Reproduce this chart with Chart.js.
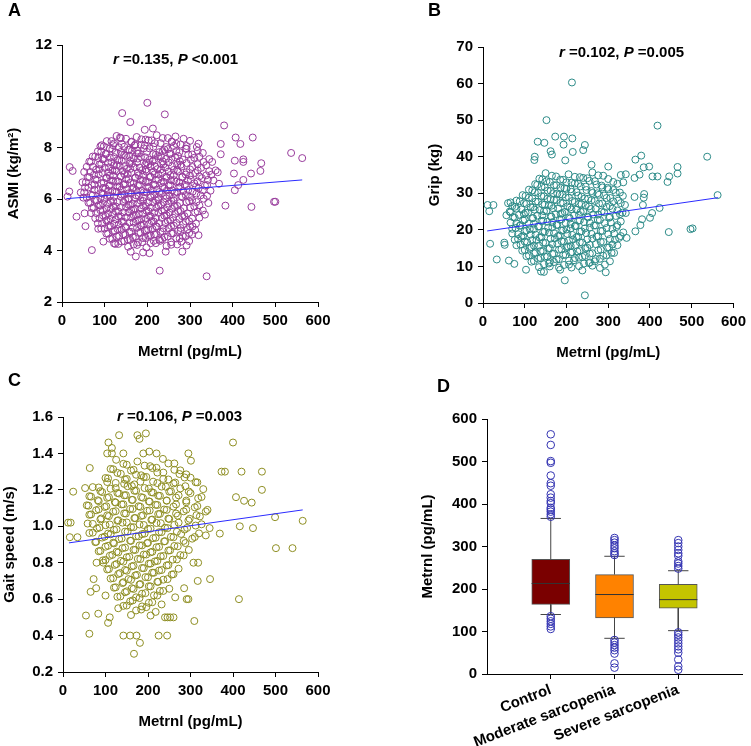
<!DOCTYPE html>
<html>
<head>
<meta charset="utf-8">
<script src="https://cdn.jsdelivr.net/npm/chart.js@4.4.1/dist/chart.umd.min.js"></script>
<style>
  body { margin: 0; background: #fff; }
  #wrap { position: relative; width: 751px; height: 746px; font-family: "Liberation Sans", Arial, sans-serif; }
  .panel { position: absolute; }
  .tag { position: absolute; font: bold 18px "Liberation Sans", Arial, sans-serif; color: #000; }
</style>
</head>
<body>
<div id="wrap">
  <div class="panel" style="left:0;top:0;width:375px;height:370px"><canvas id="cA" width="375" height="370"></canvas></div>
  <div class="panel" style="left:375px;top:0;width:376px;height:370px"><canvas id="cB" width="376" height="370"></canvas></div>
  <div class="panel" style="left:0;top:370px;width:375px;height:376px"><canvas id="cC" width="375" height="376"></canvas></div>
  <div class="panel" style="left:375px;top:370px;width:376px;height:376px"><canvas id="cD" width="376" height="376"></canvas></div>
  <div class="tag" style="left:8px;top:0px">A</div>
  <div class="tag" style="left:428px;top:0px">B</div>
  <div class="tag" style="left:8px;top:370px">C</div>
  <div class="tag" style="left:437px;top:376px">D</div>
</div>
<script>
"use strict";

// ---- datos: ASMI vs Metrnl (panel A)
const asmiPoints = [
  [200,9.75],[141,9.35],[241,9.3],[160,9.0],[380,8.87],[213,8.75],[194,8.7],[407,8.4],[418,8.15],[447,8.4],
  [537,7.8],[563,7.6],[372,8.15],[372,7.75],[405,7.5],[425,7.55],[425,7.45],[467,7.4],[465,7.1],[443,7.0],
  [425,6.75],[403,7.0],[413,6.55],[405,6.35],[497,5.9],[500,5.9],[444,5.7],[383,5.75],[229,3.22],[339,3.0],
  [70,4.02],[173,3.77],[18,7.25],[25,7.1],[13,6.1],[17,6.3],[34,5.32],[55,4.95],[53,5.45],[85,4.85],
  [97,4.35],[122,4.28],[161,3.96],[190,3.93],[205,3.9],[243,3.96],[282,3.96],[292,4.2],[320,4.6],[312,4.8],
  [335,5.4],[343,5.85],[93,8.1],[85,7.6],[120,8.1],[136,8.4],
  [128,8.46],[150,8.35],[175,8.42],[196,8.32],[222,8.49],[248,8.38],[266,8.44],
  [105,8.26],[140,8.15],[162,8.22],[185,8.12],[203,8.29],[231,8.18],[257,8.24],[278,8.13],[300,8.27],
  [90,8.06],[118,7.95],[133,8.02],[155,7.92],[170,8.09],[192,7.98],[214,8.04],[240,7.93],[262,8.07],[290,7.97],[316,8.03],
  [84,7.86],[102,7.75],[126,7.82],[146,7.72],[164,7.89],[180,7.78],[199,7.84],[220,7.73],[236,7.87],[255,7.77],[275,7.83],[305,7.74],[330,7.8],
  [72,7.66],[95,7.55],[112,7.62],[130,7.52],[150,7.69],[168,7.58],[185,7.64],[205,7.53],[225,7.67],[244,7.57],[265,7.63],[283,7.54],[310,7.61],[345,7.56],
  [64,7.46],[88,7.35],[108,7.42],[122,7.32],[140,7.49],[158,7.38],[176,7.44],[195,7.33],[212,7.47],[232,7.37],[250,7.43],[270,7.34],[292,7.41],[318,7.36],[352,7.45],
  [58,7.26],[80,7.15],[100,7.22],[118,7.12],[135,7.29],[152,7.18],[170,7.24],[188,7.13],[207,7.27],[224,7.17],[242,7.23],[262,7.14],[280,7.27],[300,7.16],[326,7.22],[360,7.12],
  [52,7.06],[75,6.95],[95,7.02],[112,6.92],[128,7.09],[146,6.98],[163,7.04],[180,6.93],[198,7.07],[217,6.97],[235,7.03],[254,6.94],[272,7.08],[290,6.96],[312,7.02],[338,6.93],[365,7.05],
  [60,6.86],[82,6.75],[104,6.82],[120,6.72],[138,6.89],[156,6.78],[172,6.84],[190,6.73],[208,6.87],[226,6.77],[245,6.83],[263,6.74],[282,6.88],[302,6.76],[328,6.82],[355,6.73],
  [48,6.66],[70,6.55],[92,6.62],[110,6.52],[126,6.69],[144,6.58],[160,6.64],[178,6.53],[196,6.67],[214,6.57],[232,6.63],[250,6.54],[268,6.68],[288,6.56],[310,6.62],[335,6.53],[368,6.6],
  [62,6.46],[85,6.35],[102,6.42],[118,6.32],[135,6.49],[152,6.38],[168,6.44],[186,6.33],[204,6.47],[222,6.37],[240,6.43],[258,6.34],[277,6.48],[296,6.36],[320,6.42],[348,6.33],
  [44,6.26],[72,6.15],[95,6.22],[112,6.12],[128,6.29],[146,6.18],[162,6.24],[180,6.13],[198,6.27],[216,6.17],[234,6.23],[252,6.14],[270,6.28],[290,6.16],[315,6.22],[340,6.13],
  [58,6.06],[82,5.95],[100,6.02],[120,5.92],[138,6.09],[155,5.98],[172,6.04],[190,5.93],[208,6.07],[226,5.97],[244,6.03],[262,5.94],[282,6.08],[305,5.96],[332,6.02],
  [66,5.86],[90,5.75],[108,5.82],[126,5.72],[144,5.89],[160,5.78],[178,5.84],[196,5.73],[214,5.87],[232,5.77],[250,5.83],[270,5.74],[292,5.88],[322,5.76],
  [74,5.66],[96,5.55],[115,5.62],[132,5.52],[150,5.69],[167,5.58],[185,5.64],[203,5.53],[221,5.67],[240,5.57],[258,5.63],[278,5.54],[300,5.68],[330,5.56],
  [80,5.46],[102,5.35],[120,5.42],[138,5.32],[156,5.49],[173,5.38],[190,5.44],[208,5.33],[226,5.47],[245,5.37],[265,5.43],[287,5.34],[312,5.48],
  [88,5.26],[108,5.15],[126,5.22],[144,5.12],[162,5.29],[180,5.18],[197,5.24],[215,5.13],[234,5.27],[254,5.17],[275,5.23],[298,5.14],[322,5.28],
  [94,5.06],[114,4.95],[133,5.02],[150,4.92],[168,5.09],[186,4.98],[204,5.04],[222,4.93],[242,5.07],[262,4.97],[284,5.03],[306,4.94],
  [100,4.86],[120,4.75],[140,4.82],[158,4.72],[176,4.89],[194,4.78],[212,4.84],[231,4.73],[250,4.87],[272,4.77],[295,4.83],
  [108,4.66],[128,4.55],[148,4.62],[166,4.52],[184,4.69],[202,4.58],[220,4.64],[240,4.53],[260,4.67],[283,4.57],[305,4.63],
  [118,4.46],[140,4.35],[160,4.42],[178,4.32],[196,4.49],[215,4.38],[235,4.44],[256,4.33],[276,4.47],[298,4.37],
  [132,4.26],[155,4.15],[176,4.22],[198,4.12],[220,4.29],[245,4.18],[270,4.24],
  [116,8.26],[138,8.37],[163,8.24],[186,8.33],[210,8.29],[236,8.38],[258,8.23],[285,8.35],
  [98,8.06],[122,8.17],[146,8.04],[172,8.13],[194,8.09],[218,8.18],[244,8.03],[268,8.15],[292,8.07],[320,8.16],
  [92,7.86],[112,7.97],[138,7.84],[158,7.93],[176,7.89],[205,7.98],[228,7.83],[248,7.95],[268,7.87],[292,7.96],[318,7.88],
  [78,7.66],[104,7.77],[122,7.64],[140,7.73],[158,7.69],[176,7.78],[195,7.63],[214,7.75],[232,7.67],[252,7.76],[272,7.68],[296,7.74],[322,7.65],
  [68,7.46],[98,7.57],[116,7.44],[134,7.53],[160,7.49],[178,7.58],[198,7.43],[216,7.55],[236,7.47],[256,7.56],[276,7.48],[302,7.54],[332,7.45],
  [72,7.26],[92,7.37],[110,7.24],[128,7.33],[146,7.29],[164,7.38],[182,7.23],[202,7.35],[218,7.27],[238,7.36],[258,7.28],[278,7.34],[306,7.25],[338,7.32],
  [66,7.06],[88,7.17],[108,7.04],[124,7.13],[142,7.09],[160,7.18],[178,7.03],[196,7.15],[214,7.07],[232,7.16],[250,7.08],[270,7.14],[292,7.05],[318,7.12],[345,7.09],
  [64,6.86],[86,6.97],[104,6.84],[120,6.93],[138,6.89],[154,6.98],[172,6.83],[190,6.95],[206,6.87],[226,6.96],[244,6.88],[262,6.94],[282,6.85],[300,6.92],[322,6.89],[350,6.95],
  [56,6.66],[78,6.77],[98,6.64],[115,6.73],[132,6.69],[150,6.78],[168,6.63],[184,6.75],[202,6.67],[220,6.76],[238,6.68],[256,6.74],[275,6.65],[295,6.72],[318,6.69],[342,6.75],
  [54,6.46],[76,6.57],[96,6.44],[112,6.53],[130,6.49],[148,6.58],[165,6.43],[182,6.55],[200,6.47],[218,6.56],[236,6.48],[254,6.54],[273,6.45],[292,6.52],[314,6.49],[340,6.55],
  [52,6.26],[76,6.37],[92,6.24],[108,6.33],[124,6.29],[140,6.38],[156,6.23],[174,6.35],[192,6.27],[210,6.36],[228,6.28],[246,6.34],[264,6.25],[284,6.32],[306,6.29],[330,6.35],
  [50,6.06],[68,6.17],[90,6.04],[106,6.13],[122,6.09],[140,6.18],[156,6.03],[174,6.15],[190,6.07],[208,6.16],[226,6.08],[244,6.14],[262,6.05],[280,6.12],[300,6.09],[325,6.15],
  [62,5.86],[78,5.97],[96,5.84],[114,5.93],[130,5.89],[148,5.98],[166,5.83],[184,5.95],[202,5.87],[220,5.96],[238,5.88],[256,5.94],[276,5.85],[298,5.92],[315,5.89],
  [70,5.66],[86,5.77],[104,5.64],[120,5.73],[138,5.69],[156,5.78],[172,5.63],[190,5.75],[208,5.67],[226,5.76],[246,5.68],[264,5.74],[286,5.65],[310,5.72],
  [68,5.46],[90,5.57],[108,5.44],[126,5.53],[144,5.49],[162,5.58],[180,5.43],[198,5.55],[216,5.47],[234,5.56],[252,5.48],[272,5.54],[294,5.45],[318,5.52],
  [78,5.26],[96,5.37],[114,5.24],[132,5.33],[150,5.29],[168,5.38],[186,5.23],[204,5.35],[220,5.27],[240,5.36],[260,5.28],[282,5.34],[305,5.25],
  [84,5.06],[104,5.17],[122,5.04],[140,5.13],[158,5.09],[176,5.18],[192,5.03],[210,5.15],[228,5.07],[248,5.16],[268,5.08],[290,5.14],[314,5.05],
  [92,4.86],[110,4.97],[130,4.84],[148,4.93],[166,4.89],[184,4.98],[202,4.83],[220,4.95],[238,4.87],[256,4.96],[278,4.88],[300,4.94],
  [104,4.66],[124,4.77],[144,4.64],[162,4.73],[180,4.69],[198,4.78],[216,4.63],[236,4.75],[256,4.67],[278,4.76],[298,4.68],
  [112,4.46],[134,4.57],[154,4.44],[172,4.53],[190,4.49],[208,4.58],[228,4.43],[248,4.55],[268,4.47],[290,4.56],
  [125,4.26],[146,4.37],[168,4.24],[188,4.33],[208,4.29],[230,4.38],[256,4.23],[280,4.35]
];
const asmiFit = [[10, 6.02], [563, 6.75]];

// ---- datos: Grip vs Metrnl (panel B)
const gripPoints = [
  [213,60.3],[152,50],[418,48.5],[537,40],[562,29.5],[131,44.1],[147,43.8],[173,45.5],[194,45.5],[214,45],
  [193,43.3],[244,43.2],[240,41.8],[162,41.5],[165,40.6],[124,40],[123,39.1],[197,39],[215,41.3],[365,39.2],
  [379,40.3],[385,37.1],[398,37.3],[406,34.6],[418,34.6],[446,34.6],[466,37.2],[466,35.4],[442,33.1],[300,37.3],
  [260,37.8],[330,35],[342,35.2],[336,33],[363,34.2],[375,35.1],[363,29],[386,29.8],[385,28.8],[383,26.8],
  [423,26],[405,24.6],[400,23.3],[381,22.9],[377,21.3],[365,19.6],[445,19.4],[497,20.2],[502,20.4],[344,17.8],
  [294,8.4],[244,2.1],[196,6.2],[11,26.8],[25,26.8],[15,25.1],[17,16.2],[33,11.9],[62,11.6],[75,10.7],
  [103,9.1],[139,8.6],[146,8.5],[56,24],[51,16.5],[52,15.9],[60,27.3],[66,27.5],
  [150,35.5],[175,34.6],[205,35.2],[232,34.4],[262,35.7],[288,34.8],
  [135,34],[160,33.1],[185,33.7],[212,32.9],[240,34.2],[268,33.3],[300,33.9],
  [125,32.5],[148,31.6],[170,32.2],[195,31.4],[220,32.7],[246,31.8],[272,32.4],[298,31.5],[322,32.6],
  [110,31],[132,30.1],[155,30.7],[178,29.9],[200,31.2],[224,30.3],[248,30.9],[274,30],[300,31.1],[328,30.2],
  [95,29.5],[118,28.6],[140,29.2],[162,28.4],[184,29.7],[206,28.8],[228,29.4],[252,28.5],[278,29.6],[305,28.7],[335,29.3],
  [80,28],[104,27.1],[126,27.7],[148,26.9],[170,28.2],[192,27.3],[214,27.9],[236,27],[260,28.1],[286,27.2],[312,27.8],[340,26.8],
  [70,26.5],[92,25.6],[114,26.2],[136,25.4],[158,26.7],[180,25.8],[202,26.4],[224,25.5],[246,26.6],[270,25.7],[296,26.3],[322,25.3],
  [64,25],[86,24.1],[108,24.7],[130,23.9],[152,25.2],[174,24.3],[196,24.9],[218,24],[240,25.1],[264,24.2],[290,24.8],[318,23.8],[342,24.6],
  [72,23.5],[96,22.6],[118,23.2],[140,22.4],[162,23.7],[184,22.8],[206,23.4],[228,22.5],[250,23.6],[275,22.7],[302,23.3],[330,22.3],
  [66,22],[88,21.1],[110,21.7],[132,20.9],[154,22.2],[176,21.3],[198,21.9],[220,21],[242,22.1],[266,21.2],[292,21.8],[320,20.8],
  [78,20.5],[100,19.6],[122,20.2],[144,19.4],[166,20.7],[188,19.8],[210,20.4],[232,19.5],[256,20.6],[282,19.7],[310,20.3],[336,19.3],
  [70,19],[92,18.1],[114,18.7],[136,17.9],[158,19.2],[180,18.3],[202,18.9],[224,18],[247,19.1],[272,18.2],[300,18.8],[326,17.8],
  [84,17.5],[106,16.6],[128,17.2],[150,16.4],[172,17.7],[194,16.8],[216,17.4],[238,16.5],[262,17.6],[288,16.7],[316,17.3],
  [90,16],[112,15.1],[134,15.7],[156,14.9],[178,16.2],[200,15.3],[222,15.9],[245,15],[270,16.1],[298,15.2],[322,15.8],
  [100,14.5],[122,13.6],[144,14.2],[166,13.4],[188,14.7],[210,13.8],[232,14.4],[256,13.5],[282,14.6],[308,13.7],
  [110,13],[132,12.1],[154,12.7],[176,11.9],[198,13.2],[220,12.3],[244,12.9],[270,12],[296,13.1],
  [122,11.5],[146,10.6],[170,11.2],[194,10.4],[218,11.7],[242,10.8],[268,11.4],[292,10.5],
  [160,10],[185,9.1],[212,9.7],[238,8.9],[262,10.2],
  [142,33.8],[165,34.8],[192,33.7],[220,34.5],[250,34.1],[276,34.9],
  [130,32.3],[152,33.3],[176,32.2],[200,33],[228,32.6],[255,33.4],[284,32.1],[312,33.1],
  [118,30.8],[140,31.8],[162,30.7],[186,31.5],[210,31.1],[234,31.9],[260,30.6],[286,31.6],[312,30.9],
  [102,29.3],[124,30.3],[146,29.2],[168,30],[190,29.6],[212,30.4],[236,29.1],[262,30.1],[290,29.4],[318,30.2],
  [88,27.8],[110,28.8],[132,27.7],[154,28.5],[176,28.1],[198,28.9],[220,27.6],[244,28.6],[268,27.9],[296,28.7],[324,28],
  [76,26.3],[98,27.3],[120,26.2],[142,27],[164,26.6],[186,27.4],[208,26.1],[230,27.1],[254,26.4],[278,27.2],[304,26.5],[330,27.3],
  [66,24.8],[80,25.8],[102,24.7],[124,25.5],[146,25.1],[168,25.9],[190,24.6],[212,25.6],[234,24.9],[258,25.7],[284,25],[310,25.8],[334,24.7],
  [76,23.3],[98,24.3],[120,23.2],[142,24],[164,23.6],[186,24.4],[208,23.1],[230,24.1],[252,23.4],[276,24.2],[304,23.5],[328,24.3],
  [80,21.8],[100,22.8],[122,21.7],[144,22.5],[166,22.1],[188,22.9],[210,21.6],[232,22.6],[256,21.9],[280,22.7],[306,22],
  [70,20.3],[90,21.3],[112,20.2],[134,21],[156,20.6],[178,21.4],[200,20.1],[222,21.1],[244,20.4],[270,21.2],[296,20.5],[322,21.3],
  [84,18.8],[104,19.8],[126,18.7],[148,19.5],[170,19.1],[192,19.9],[214,18.6],[236,19.6],[260,18.9],[286,19.7],[314,19],
  [76,17.3],[96,18.3],[118,17.2],[140,18],[162,17.6],[184,18.4],[206,17.1],[228,18.1],[250,17.4],[276,18.2],[304,17.5],[330,18.3],
  [80,15.8],[100,16.8],[122,15.7],[144,16.5],[166,16.1],[188,16.9],[210,15.6],[232,16.6],[256,15.9],[282,16.7],[310,16],
  [94,14.3],[116,15.3],[138,14.2],[160,15],[182,14.6],[204,15.4],[226,14.1],[250,15.1],[276,14.4],[302,15.2],
  [104,12.8],[126,13.8],[148,12.7],[170,13.5],[192,13.1],[214,13.9],[238,12.6],[262,13.6],[288,12.9],[314,13.7],
  [116,11.3],[138,12.3],[160,11.2],[182,12],[206,11.6],[230,12.4],[256,11.1],[280,12.1],[304,11.4],
  [134,9.8],[158,10.8],[182,9.7],[206,10.5],[230,10.1],[254,10.9],[280,9.6]
];
const gripFit = [[10, 19.7], [563, 28.8]];

// ---- datos: Gait speed vs Metrnl (panel C)
const gaitPoints = [
  [132,1.5],[175,1.5],[180,1.48],[195,1.51],[107,1.46],[115,1.43],[104,1.4],[115,1.4],[142,1.4],[189,1.4],
  [203,1.41],[220,1.4],[295,1.4],[301,1.36],[400,1.46],[63,1.32],[373,1.3],[381,1.3],[420,1.3],[468,1.3],
  [468,1.2],[24,1.19],[52,1.21],[407,1.16],[426,1.14],[444,1.13],[499,1.05],[564,1.03],[501,0.88],[540,0.88],
  [12,1.02],[18,1.02],[16,0.94],[34,0.94],[447,0.99],[369,0.96],[416,1.0],[336,0.95],[307,0.8],[318,0.8],
  [317,0.7],[346,0.71],[414,0.6],[285,0.66],[291,0.6],[295,0.6],[264,0.61],[309,0.48],[240,0.5],[246,0.5],
  [252,0.5],[260,0.5],[225,0.4],[245,0.4],[167,0.3],[181,0.36],[142,0.4],[158,0.4],[173,0.4],[62,0.41],
  [54,0.51],[83,0.52],[106,0.47],[110,0.5],[130,0.55],[65,0.64],[78,0.66],[72,0.71],[79,0.8],[95,0.8],[100,0.62],
  [125,1.365],[150,1.338],[175,1.356],[205,1.33],[235,1.37],[262,1.345],
  [112,1.315],[136,1.288],[160,1.306],[184,1.28],[210,1.32],[236,1.295],[262,1.31],[290,1.285],
  [100,1.265],[124,1.238],[146,1.256],[168,1.23],[190,1.27],[212,1.245],[236,1.26],[260,1.235],[286,1.268],[312,1.242],
  [70,1.215],[92,1.188],[112,1.206],[132,1.18],[152,1.22],[172,1.195],[192,1.21],[212,1.185],[232,1.218],[254,1.192],[276,1.208],[300,1.182],[330,1.204],
  [62,1.165],[84,1.138],[104,1.156],[124,1.13],[144,1.17],[164,1.145],[184,1.16],[204,1.135],[224,1.168],[244,1.142],[266,1.158],[290,1.132],[318,1.154],
  [56,1.115],[78,1.088],[98,1.106],[118,1.08],[138,1.12],[158,1.095],[178,1.11],[198,1.085],[218,1.118],[238,1.092],[260,1.108],[284,1.082],[310,1.104],[340,1.09],
  [66,1.065],[88,1.038],[108,1.056],[128,1.03],[148,1.07],[168,1.045],[188,1.06],[208,1.035],[228,1.068],[248,1.042],[270,1.058],[295,1.032],[322,1.054],
  [58,1.015],[80,0.988],[100,1.006],[120,0.98],[140,1.02],[160,0.995],[180,1.01],[200,0.985],[220,1.018],[240,0.992],[262,1.008],[286,0.982],[312,1.004],[345,0.99],
  [70,0.965],[92,0.938],[112,0.956],[132,0.93],[152,0.97],[172,0.945],[192,0.96],[212,0.935],[232,0.968],[254,0.942],[278,0.958],[304,0.932],
  [78,0.915],[100,0.888],[120,0.906],[140,0.88],[160,0.92],[180,0.895],[200,0.91],[220,0.885],[240,0.918],[262,0.892],[288,0.908],
  [88,0.865],[110,0.838],[130,0.856],[150,0.83],[170,0.87],[190,0.845],[210,0.86],[230,0.835],[252,0.868],[276,0.842],
  [100,0.815],[122,0.788],[142,0.806],[162,0.78],[182,0.82],[202,0.795],[222,0.81],[244,0.785],[268,0.818],
  [108,0.765],[130,0.738],[150,0.756],[170,0.73],[190,0.77],[210,0.745],[232,0.76],[256,0.735],
  [118,0.715],[140,0.688],[160,0.706],[180,0.68],[200,0.72],[222,0.695],[246,0.71],
  [124,0.665],[146,0.638],[166,0.656],[186,0.63],[206,0.67],[228,0.645],
  [135,0.615],[158,0.588],[180,0.606],[202,0.58],[222,0.62],
  [150,0.565],[172,0.538],[196,0.556],[218,0.53],
  [118,1.313],[142,1.343],[166,1.31],[192,1.333],[220,1.321],[248,1.345],[276,1.307],
  [106,1.263],[128,1.293],[150,1.26],[172,1.283],[196,1.271],[222,1.295],[248,1.257],[274,1.287],[300,1.267],
  [84,1.213],[104,1.243],[124,1.21],[144,1.233],[162,1.221],[182,1.245],[202,1.207],[222,1.237],[242,1.217],[264,1.24],[288,1.22],[316,1.241],
  [66,1.163],[88,1.193],[108,1.16],[128,1.183],[148,1.171],[168,1.195],[188,1.157],[208,1.187],[228,1.167],[250,1.19],[272,1.17],[296,1.191],[326,1.161],
  [60,1.113],[82,1.143],[102,1.11],[122,1.133],[142,1.121],[162,1.145],[182,1.107],[202,1.137],[222,1.117],[244,1.14],[266,1.12],[290,1.141],[316,1.111],
  [62,1.063],[84,1.093],[104,1.06],[124,1.083],[144,1.071],[164,1.095],[184,1.057],[204,1.087],[224,1.067],[244,1.09],[266,1.07],[290,1.091],[314,1.061],[336,1.081],
  [70,1.013],[90,1.043],[110,1.01],[130,1.033],[150,1.021],[170,1.045],[190,1.007],[210,1.037],[230,1.017],[250,1.04],[272,1.02],[298,1.041],[326,1.011],
  [62,0.963],[86,0.993],[106,0.96],[126,0.983],[146,0.971],[166,0.995],[186,0.957],[206,0.987],[226,0.967],[246,0.99],[268,0.97],[292,0.991],[320,0.961],
  [76,0.913],[98,0.943],[118,0.91],[138,0.933],[158,0.921],[178,0.945],[198,0.907],[218,0.937],[238,0.917],[260,0.94],[284,0.92],[310,0.941],
  [84,0.863],[106,0.893],[126,0.86],[146,0.883],[166,0.871],[186,0.895],[206,0.857],[226,0.887],[248,0.867],[270,0.89],[296,0.87],
  [94,0.813],[116,0.843],[136,0.81],[156,0.833],[176,0.821],[196,0.845],[216,0.807],[236,0.837],[258,0.817],[284,0.84],
  [104,0.763],[126,0.793],[146,0.76],[166,0.783],[186,0.771],[206,0.795],[226,0.757],[248,0.787],[272,0.767],
  [112,0.713],[134,0.743],[154,0.71],[174,0.733],[194,0.721],[214,0.745],[236,0.707],[260,0.737],
  [120,0.663],[142,0.693],[162,0.66],[182,0.683],[202,0.671],[224,0.695],[250,0.657],
  [128,0.613],[150,0.643],[172,0.61],[194,0.633],[214,0.621],[236,0.645],
  [142,0.563],[164,0.593],[186,0.56],[210,0.583],[232,0.571],
  [160,0.513],[184,0.543],[206,0.51]
];
const gaitFit = [[14, 0.909], [564, 1.09]];

// ---- datos: Metrnl por grupo (panel D)
const groups = ["Control", "Moderate sarcopenia", "Severe sarcopenia"];
const q1 = [164, 132, 155];
const medians = [213, 187, 175];
const q3 = [270, 234, 211];
const whiskerLow = [140, 84, 102];
const whiskerHigh = [366, 277, 243];
const outliers = [
  [564, 539, 501, 497, 467, 449, 443, 423, 415, 407, 402, 391, 387, 382, 376, 370, 136, 130, 124, 118, 112, 106],
  [320, 315, 309, 302, 296, 289, 284, 280, 80, 74, 68, 62, 56, 48, 25, 15],
  [315, 308, 300, 292, 284, 278, 265, 260, 254, 248, 98, 92, 86, 79, 72, 65, 58, 50, 34, 18, 10]
];
const boxColors = ["#7a0000", "#ff8200", "#c4c400"];

const FONT = '"Liberation Sans", Arial, sans-serif';
Chart.defaults.font.family = FONT;
Chart.defaults.font.size = 15;
Chart.defaults.font.weight = "bold";
Chart.defaults.color = "#000";
Chart.defaults.animation = false;

const notePlugin = {
    id: "note",
    afterDraw(chart, args, opts) {
        if (!opts.parts) return;
        const { ctx, chartArea } = chart;
        let x = chartArea.left + opts.dx;
        const y = chartArea.top + opts.dy;
        ctx.save();
        ctx.fillStyle = "#000";
        ctx.textBaseline = "middle";
        opts.parts.forEach(([t, italic]) => {
            ctx.font = (italic ? "italic " : "") + "bold 15px " + FONT;
            ctx.fillText(t, x, y);
            x += ctx.measureText(t).width;
        });
        ctx.restore();
    }
};

function axisBase() {
    return {
        grid: { drawOnChartArea: false, drawTicks: true, tickLength: 5, color: "#000" },
        border: { display: true, color: "#000", width: 1 },
        ticks: { padding: 5, color: "#000" }
    };
}

function scatterChart(id, pts, fit, color, yCfg, cfg) {
    const x = axisBase();
    x.type = "linear"; x.min = 0; x.max = 600;
    x.ticks.stepSize = 100;
    x.title = { display: true, text: "Metrnl (pg/mL)", padding: { bottom: cfg.xTitlePad, top: 0 } };
    x.afterFit = s => { s.height = cfg.xH; };

    const y = axisBase();
    y.min = yCfg.min; y.max = yCfg.max;
    y.ticks.stepSize = yCfg.step;
    if (yCfg.fmt) y.ticks.callback = yCfg.fmt;
    y.title = { display: true, text: cfg.yTitle, padding: { top: cfg.yTitlePad, bottom: 0 } };
    y.afterFit = s => { s.width = cfg.yW; };

    return new Chart(document.getElementById(id), {
        type: "scatter",
        data: {
            datasets: [
                {
                    data: fit.map(([a, b]) => ({ x: a, y: b })),
                    showLine: true, borderColor: "#2b2bff", borderWidth: 1, pointRadius: 0
                },
                {
                    data: pts.map(([a, b]) => ({ x: a, y: b })),
                    pointRadius: 3.5, pointBorderWidth: 1,
                    pointBorderColor: color, pointBackgroundColor: "rgba(0,0,0,0)"
                }
            ]
        },
        options: {
            responsive: false,
            layout: { padding: cfg.pad },
            plugins: { legend: { display: false }, tooltip: { enabled: false }, note: cfg.note },
            scales: { x, y }
        },
        plugins: [notePlugin]
    });
}

scatterChart("cA", asmiPoints, asmiFit, "#983c9c", { min: 2, max: 12, step: 2 }, {
    yTitle: "ASMI (kg/m²)", yW: 62, xH: 68, yTitlePad: 5, xTitlePad: 9,
    pad: { left: 0, top: 45, right: 57, bottom: 0 },
    note: { dx: 51, dy: 15, parts: [["r", true], [" =0.135, ", false], ["P", true], [" <0.001", false]] }
});

scatterChart("cB", gripPoints, gripFit, "#2d8b88", { min: 0, max: 70, step: 10 }, {
    yTitle: "Grip (kg)", yW: 108, xH: 67, yTitlePad: 51, xTitlePad: 8,
    pad: { left: 0, top: 47, right: 13, bottom: 0 },
    note: { dx: 76, dy: 6, parts: [["r", true], [" =0.102, ", false], ["P", true], [" =0.005", false]] }
});

scatterChart("cC", gaitPoints, gaitFit, "#8e8e22", { min: 0.2, max: 1.6, step: 0.2, fmt: v => v.toFixed(1) }, {
    yTitle: "Gait speed (m/s)", yW: 63, xH: 74, yTitlePad: 1, xTitlePad: 15,
    pad: { left: 0, top: 47, right: 57, bottom: 0 },
    note: { dx: 54, dy: 0, parts: [["r", true], [" =0.106, ", false], ["P", true], [" =0.003", false]] }
});

// ---- panel D: cajas
const gapPt = { x: null, y: null };
const medianLines = [], whiskerLines = [], outlierPts = [];
groups.forEach((g, i) => {
    const c = i + 1;
    medianLines.push({ x: c - 0.3, y: medians[i] }, { x: c + 0.3, y: medians[i] }, gapPt);
    whiskerLines.push(
        { x: c, y: q3[i] }, { x: c, y: whiskerHigh[i] }, gapPt,
        { x: c - 0.16, y: whiskerHigh[i] }, { x: c + 0.16, y: whiskerHigh[i] }, gapPt,
        { x: c, y: q1[i] }, { x: c, y: whiskerLow[i] }, gapPt,
        { x: c - 0.16, y: whiskerLow[i] }, { x: c + 0.16, y: whiskerLow[i] }, gapPt
    );
    outliers[i].forEach(v => outlierPts.push({ x: c, y: v }));
});

const dx = axisBase();
dx.type = "linear"; dx.min = 0; dx.max = 4; dx.offset = false;
dx.grid.offset = false;
dx.afterBuildTicks = s => { s.ticks = groups.map((g, i) => ({ value: i + 1 })); };
dx.ticks.callback = v => groups[v - 1];
dx.ticks.minRotation = 21; dx.ticks.maxRotation = 21; dx.ticks.autoSkip = false;
dx.ticks.padding = 2;
dx.afterFit = s => { s.height = 72; };

const dy = axisBase();
dy.min = 0; dy.max = 600; dy.ticks.stepSize = 100;
dy.title = { display: true, text: "Metrnl (pg/mL)", padding: { top: 44, bottom: 0 } };
dy.afterFit = s => { s.width = 112; };

new Chart(document.getElementById("cD"), {
    type: "bar",
    data: {
        datasets: [
            {
                type: "line", data: medianLines, borderColor: "#333", borderWidth: 1,
                pointRadius: 0, spanGaps: false
            },
            {
                type: "line", data: outlierPts, showLine: false, pointRadius: 3.8, pointBorderWidth: 1,
                pointBorderColor: "#3434b2", pointBackgroundColor: "rgba(0,0,0,0)"
            },
            {
                type: "line", data: whiskerLines, borderColor: "#444", borderWidth: 1,
                pointRadius: 0, spanGaps: false
            },
            {
                type: "bar",
                data: groups.map((g, i) => ({ x: i + 1, y: [q1[i], q3[i]] })),
                backgroundColor: boxColors, borderColor: "#555", borderWidth: 1,
                borderSkipped: false, barThickness: 38
            }
        ]
    },
    options: {
        responsive: false,
        layout: { padding: { left: 0, top: 49, right: 9, bottom: 0 } },
        plugins: { legend: { display: false }, tooltip: { enabled: false } },
        scales: { x: dx, y: dy }
    }
});
</script>
</body>
</html>
